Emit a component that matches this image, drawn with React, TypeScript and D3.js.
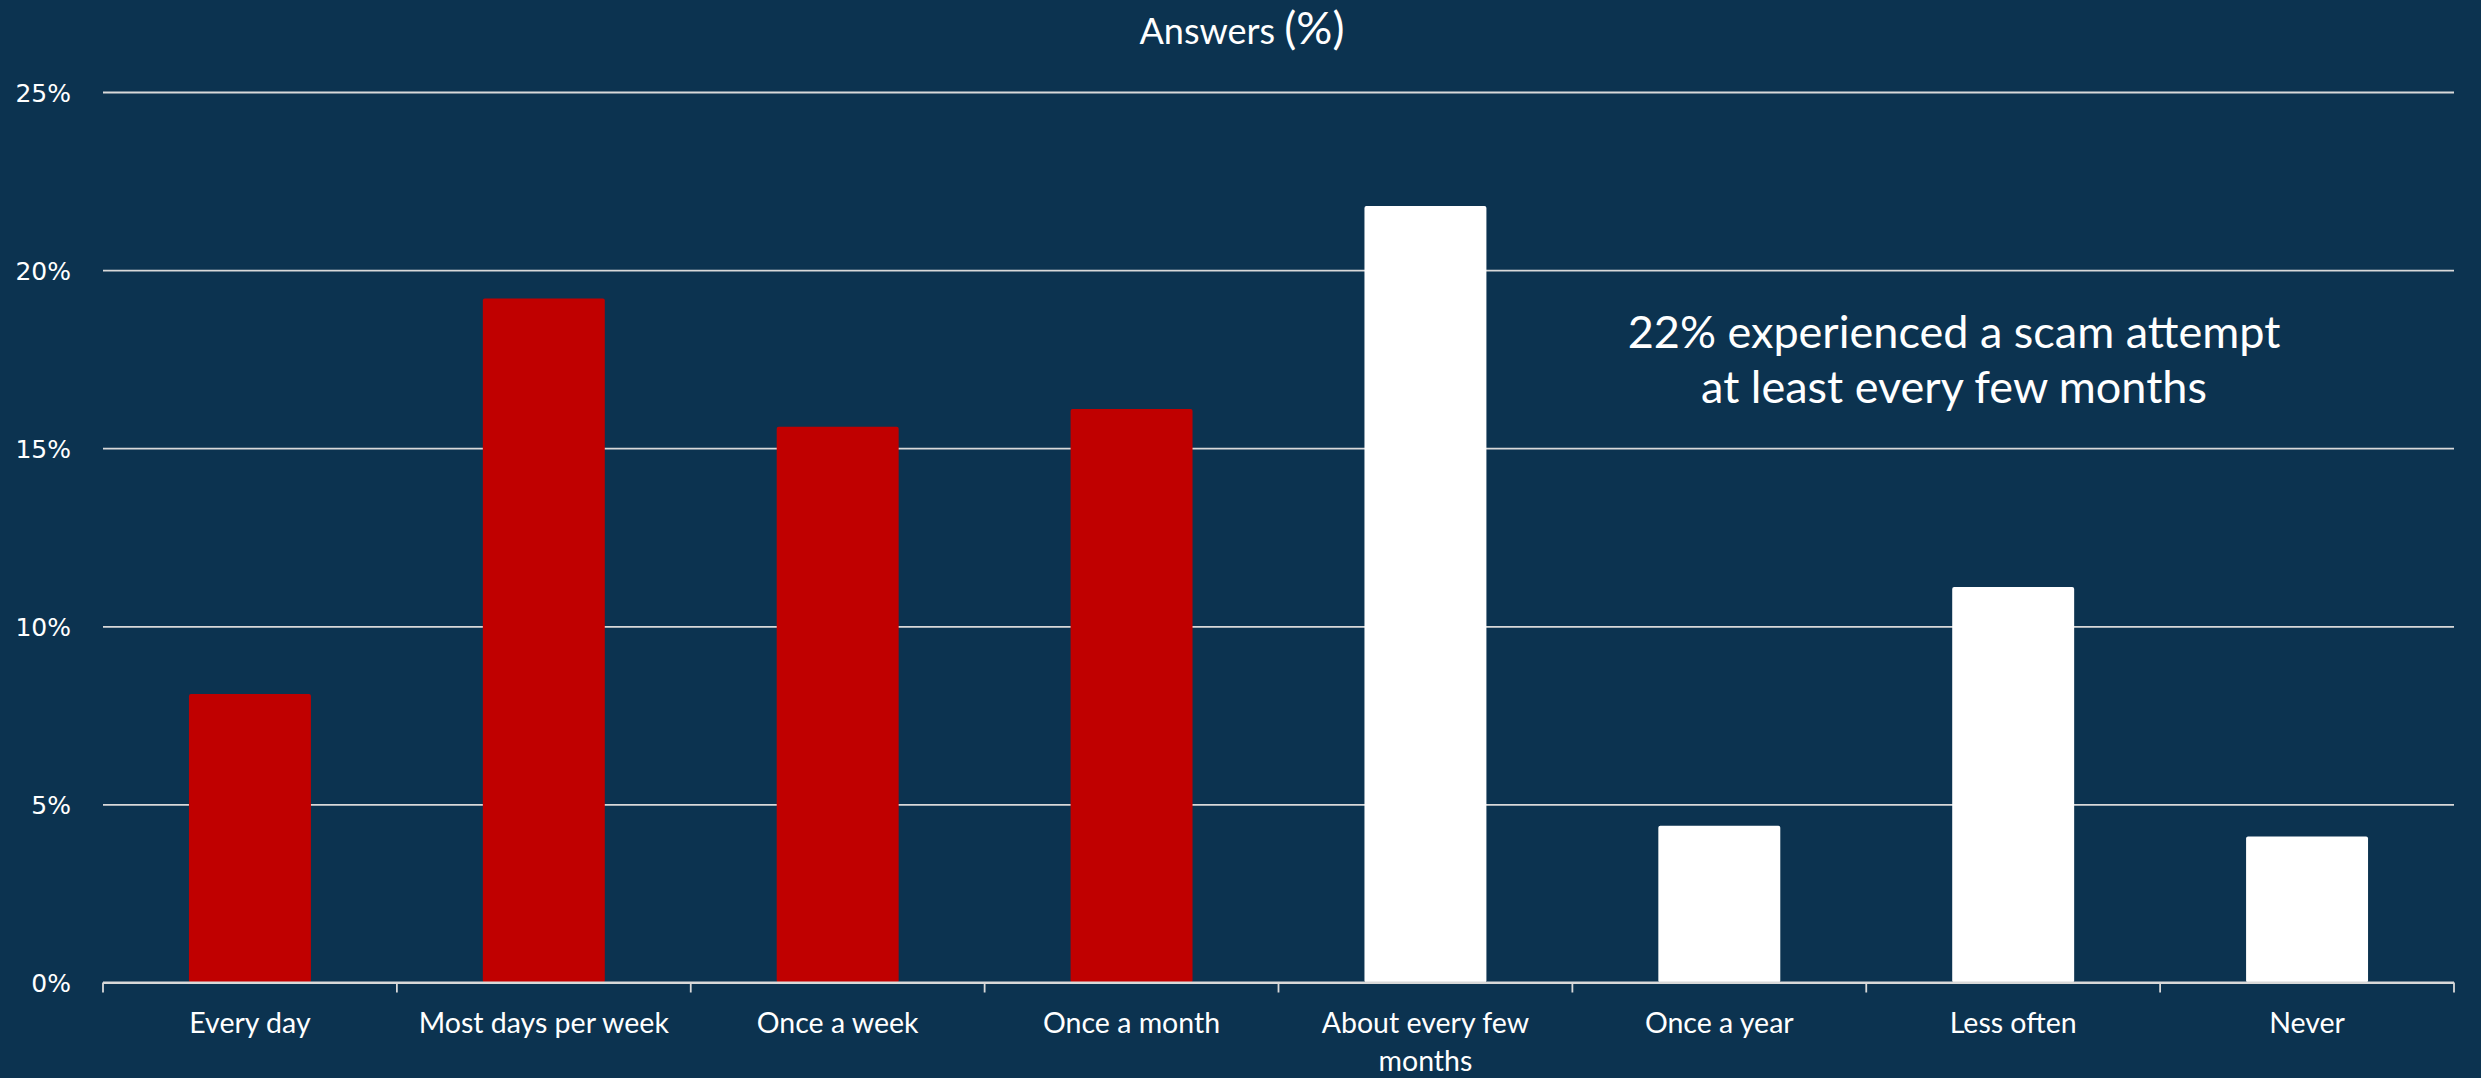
import React, { useRef, useEffect } from 'react'
import { select, scaleBand, scaleLinear, axisLeft } from 'd3'

const categories = [
    'Every day',
    'Most days per week',
    'Once a week',
    'Once a month',
    'About every few months',
    'Once a year',
    'Less often',
    'Never',
]
// label text as it wraps under the axis
const categoryLines = [
    ['Every day'],
    ['Most days per week'],
    ['Once a week'],
    ['Once a month'],
    ['About every few', 'months'],
    ['Once a year'],
    ['Less often'],
    ['Never'],
]
const answers = [8.1, 19.2, 15.6, 16.1, 21.8, 4.4, 11.1, 4.1]
const frequentAttempt = [true, true, true, true, false, false, false, false]
const yTicks = [0, 5, 10, 15, 20, 25]
const annotationLines = ['22% experienced a scam attempt', 'at least every few months']

const W = 2481
const H = 1078
const BG = '#0c3350'
const RED = '#c00000'
const GRID = '#d9d9d9'

const App = () => {
    const svgRef = useRef<any>()

    useEffect(() => {
        const svg = select(svgRef.current)
        svg.selectAll('*').remove()

        const left = 103
        const right = 2454
        const top = 92
        const bottom = 982.5

        const x = scaleBand<string>().domain(categories).range([left, right]).padding(0)
        const y = scaleLinear().domain([0, 25]).range([bottom, top])
        const barW = x.bandwidth() * 0.415

        svg.append('rect').attr('width', W).attr('height', H).attr('fill', BG)

        // title, the "(%)" is set a bit larger like in the source
        const title = svg.append('text')
            .attr('x', 1242)
            .attr('y', 44)
            .attr('text-anchor', 'middle')
            .attr('fill', '#ffffff')
            .style('font-family', 'Lato, sans-serif')
            .style('font-size', '36px')
        title.append('tspan').text('Answers ')
        title.append('tspan').style('font-size', '45px').text('(%)')

        // y axis labels + grid
        const yAxis = svg.append('g')
            .attr('transform', `translate(${left},0)`)
            .call(
                axisLeft(y)
                    .tickValues(yTicks)
                    .tickSize(-(right - left))
                    .tickPadding(32)
                    .tickFormat(d => `${d}%`)
            )
        yAxis.select('.domain').remove()
        yAxis.selectAll('.tick line')
            .attr('stroke', GRID)
            .attr('stroke-width', 1.8)
        yAxis.selectAll('.tick text')
            .attr('fill', '#ffffff')
            .attr('dy', '0.36em')
            .style('font-family', '"DejaVu Sans", sans-serif')
            .style('font-size', '25px')

        // bars
        svg.selectAll('.bar')
            .data(answers)
            .join('rect')
            .attr('class', 'bar')
            .attr('x', (d, i) => x(categories[i]) + (x.bandwidth() - barW) / 2)
            .attr('y', d => y(d))
            .attr('width', barW)
            .attr('height', d => y(0) - y(d))
            .attr('rx', 2)
            .attr('fill', (d, i) => (frequentAttempt[i] ? RED : '#ffffff'))

        // x axis line and ticks between categories
        svg.append('line')
            .attr('x1', left).attr('x2', right)
            .attr('y1', y(0)).attr('y2', y(0))
            .attr('stroke', GRID).attr('stroke-width', 1.8)
        const bounds = categories.map(c => x(c)).concat([right])
        svg.selectAll('.xtick')
            .data(bounds)
            .join('line')
            .attr('class', 'xtick')
            .attr('x1', d => d).attr('x2', d => d)
            .attr('y1', y(0)).attr('y2', y(0) + 10)
            .attr('stroke', GRID).attr('stroke-width', 1.8)

        // category labels
        const labels = svg.selectAll('.xlabel')
            .data(categoryLines)
            .join('text')
            .attr('class', 'xlabel')
            .attr('text-anchor', 'middle')
            .attr('fill', '#ffffff')
            .style('font-family', 'Lato, sans-serif')
            .style('font-size', '28.5px')
        labels.selectAll('tspan')
            .data((d, i) => d.map(line => ({ line, i })))
            .join('tspan')
            .attr('x', d => x(categories[d.i]) + x.bandwidth() / 2)
            .attr('y', (d, j) => 1033 + j * 38)
            .text(d => d.line)

        // annotation
        svg.selectAll('.note')
            .data(annotationLines)
            .join('text')
            .attr('class', 'note')
            .attr('x', 1954)
            .attr('y', (d, i) => 348 + i * 55)
            .attr('text-anchor', 'middle')
            .attr('fill', '#ffffff')
            .style('font-family', 'Lato, sans-serif')
            .style('font-size', '45px')
            .text(d => d)
    }, [])

    return (
        <svg
            ref={svgRef}
            width={W}
            height={H}
            style={{ position: 'absolute', left: 0, top: 0, display: 'block' }}
        />
    )
}

export default App
